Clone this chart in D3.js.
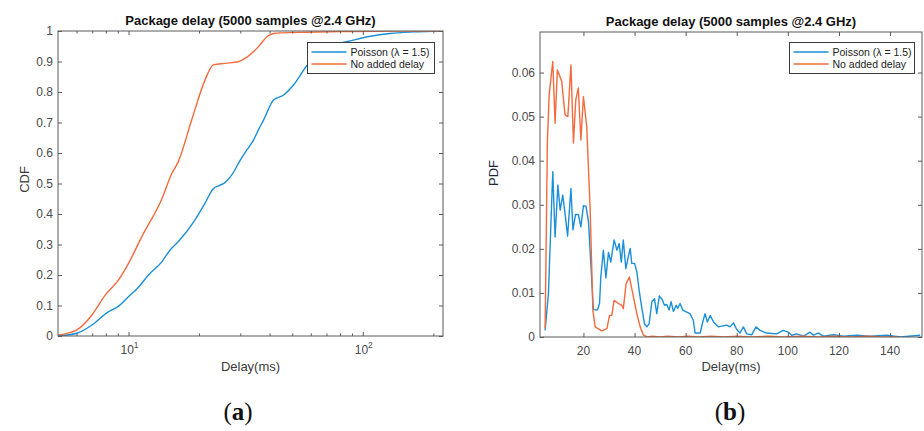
<!DOCTYPE html>
<html><head><meta charset="utf-8">
<script src="https://cdn.jsdelivr.net/npm/d3@7"></script>
<style>
html,body{margin:0;padding:0;background:#fff;}
svg{display:block;}
text{font-family:"Liberation Sans",Arial,sans-serif;}
text.cap{font-family:"Liberation Serif","DejaVu Serif",serif;}
</style></head>
<body>
<svg id="c" width="924" height="431"></svg>
<script>
// ---------- DATA ----------
const titleText = "Package delay (5000 samples @2.4 GHz)";
const seriesNames = ["Poisson (λ = 1.5)", "No added delay"];
const seriesColors = ["#1b8fd8", "#f36a3c"];

// (a) CDF, x in ms (log axis)
const cdfPoissonX = [5, 6.02, 6.98, 8.08, 9.07, 10, 11.03, 12.17, 13.9, 15.05, 16.3, 19.2, 21.2, 23.0, 24.5, 25.8, 27.6, 30.0, 32.0, 34.2, 35.8, 37.7, 41.6, 45.9, 50.6, 57.7, 70.3, 91.2, 104.6, 130.6, 164, 220];
const cdfPoissonY = [0, 0.009, 0.036, 0.076, 0.098, 0.129, 0.160, 0.200, 0.244, 0.282, 0.309, 0.380, 0.435, 0.483, 0.494, 0.503, 0.528, 0.577, 0.610, 0.643, 0.675, 0.708, 0.774, 0.790, 0.823, 0.886, 0.943, 0.970, 0.981, 0.992, 0.997, 1.0];
const cdfNoDelayX = [5, 6.02, 6.98, 7.95, 9.07, 10, 11.4, 13.9, 15.3, 16.3, 18.6, 21.2, 23.0, 25.8, 29.4, 31.4, 35.8, 39.0, 41.6, 45, 57.7, 80, 144, 220];
const cdfNoDelayY = [0.003, 0.02, 0.069, 0.134, 0.184, 0.238, 0.326, 0.451, 0.533, 0.571, 0.708, 0.839, 0.889, 0.894, 0.899, 0.910, 0.948, 0.981, 0.992, 0.994, 0.996, 0.998, 1.0, 1.0];
const cdfYTicks = [0, 0.1, 0.2, 0.3, 0.4, 0.5, 0.6, 0.7, 0.8, 0.9, 1];
const cdfYTickLabels = ["0", "0.1", "0.2", "0.3", "0.4", "0.5", "0.6", "0.7", "0.8", "0.9", "1"];
const cdfXMajor = [10, 100];
const cdfXMajorLabels = [["10", "1"], ["10", "2"]];
const cdfXMinor = [6, 7, 8, 9, 20, 30, 40, 50, 60, 70, 80, 90, 200];

// (b) PDF
const pdfPoissonX = [5.0, 6.3, 8.0, 8.9, 10.0, 10.9, 11.9, 12.8, 13.8, 15.1, 15.9, 16.9, 18.0, 19.0, 20.0, 21.0, 22.0, 23.0, 23.9, 25.5, 26.3, 26.8, 27.8, 28.8, 29.8, 30.7, 32.0, 33.1, 34.0, 34.8, 35.6, 36.6, 37.4, 38.3, 38.9, 40.0, 40.9, 41.8, 42.8, 43.9, 44.8, 45.7, 46.8, 47.8, 48.7, 49.7, 50.8, 51.7, 52.6, 53.5, 54.3, 55.2, 56.3, 56.9, 57.8, 58.9, 59.8, 61.7, 63.0, 63.7, 65.7, 66.7, 67.6, 68.5, 69.6, 70.9, 72.8, 76.1, 77.4, 78.7, 80.0, 81.3, 82.6, 83.9, 85.9, 87.5, 89.1, 91.7, 95.6, 98.2, 100.2, 101.5, 103.4, 106.1, 108.7, 110.0, 111.9, 113.9, 117.8, 121.7, 126.9, 132.2, 138.7, 144.0, 151.8];
const pdfPoissonY = [0.0015, 0.0099, 0.0375, 0.0227, 0.0345, 0.0288, 0.0322, 0.028, 0.0229, 0.0337, 0.0243, 0.0278, 0.0278, 0.025, 0.0298, 0.0297, 0.026, 0.0155, 0.0062, 0.0061, 0.0076, 0.0136, 0.0197, 0.0134, 0.0192, 0.017, 0.022, 0.0197, 0.0212, 0.017, 0.022, 0.0155, 0.0178, 0.0201, 0.0167, 0.0167, 0.0148, 0.0106, 0.0068, 0.003, 0.0023, 0.003, 0.008, 0.0087, 0.0053, 0.0093, 0.0085, 0.0072, 0.0074, 0.0061, 0.008, 0.0058, 0.0072, 0.0065, 0.0076, 0.0061, 0.0058, 0.0053, 0.0038, 0.0009, 0.0009, 0.0034, 0.0053, 0.0034, 0.0049, 0.0034, 0.0023, 0.0027, 0.0023, 0.0032, 0.0017, 0.0009, 0.0023, 0.0007, 0.0005, 0.0023, 0.0015, 0.0009, 0.0007, 0.0015, 0.0011, 0.0004, 0.0007, 0.0002, 0.0011, 0.0004, 0.0009, 0.0002, 0.0005, 0.0002, 0.0004, 0.0002, 0.0004, 0, 0.0004];
const pdfNoDelayX = [5.0, 5.9, 6.6, 8.0, 8.9, 9.8, 11.5, 12.8, 13.9, 15.1, 16.1, 17.0, 18.0, 19.0, 20.0, 21.3, 22.6, 23.7, 24.6, 27.2, 29.2, 30.2, 31.1, 32.0, 33.7, 35.0, 35.6, 36.7, 38.0, 39.3, 40.9, 42.2, 43.5, 45, 47, 50, 53, 57, 61, 65, 70, 75, 80, 86, 93, 98, 105, 112, 118, 125, 131, 137, 143];
const pdfNoDelayY = [0.002, 0.0447, 0.055, 0.0625, 0.0485, 0.0606, 0.058, 0.0504, 0.050, 0.0617, 0.044, 0.0538, 0.0565, 0.0447, 0.0545, 0.0477, 0.0295, 0.006, 0.0023, 0.0014, 0.0019, 0.0049, 0.0049, 0.0083, 0.0076, 0.0072, 0.0064, 0.0121, 0.0136, 0.0099, 0.0053, 0.0023, 0.0004, 0, 0.0002, 0, 0.0002, 0, 0.0002, 0, 0.0002, 0, 0.0002, 0, 0.0002, 0, 0.0002, 0, 0.0002, 0, 0.0002, 0, 0];
const pdfYTicks = [0, 0.01, 0.02, 0.03, 0.04, 0.05, 0.06];
const pdfYTickLabels = ["0", "0.01", "0.02", "0.03", "0.04", "0.05", "0.06"];
const pdfXTicks = [20, 40, 60, 80, 100, 120, 140];
const pdfXTickLabels = ["20", "40", "60", "80", "100", "120", "140"];

const captions = ["a", "b"];

// ---------- DRAW ----------
const svg = d3.select("#c");
const axisColor = "#5a5a5a";
const tickText = "#4a4a4a";

function frame(g, x0, x1, y0, y1) {
  g.append("rect").attr("x", x0).attr("y", y0).attr("width", x1 - x0).attr("height", y1 - y0)
    .attr("fill", "none").attr("stroke", axisColor).attr("stroke-width", 1);
}
function styleAxis(sel) {
  sel.select(".domain").remove();
  sel.selectAll(".tick line").attr("stroke", axisColor).attr("stroke-width", 1);
  sel.selectAll(".tick text").remove();
}

// ===== Chart (a) =====
const A = {l: 58, r: 443, t: 31, b: 336};
const xA = d3.scaleLog().domain([5, 220]).range([A.l, A.r]);
const yA = d3.scaleLinear().domain([0, 1]).range([A.b, A.t]);
const gA = svg.append("g");

const clipA = svg.append("clipPath").attr("id", "clipA");
clipA.append("rect").attr("x", A.l).attr("y", A.t).attr("width", A.r - A.l).attr("height", A.b - A.t);

const lineA = d3.line().x(d => xA(d[0])).y(d => yA(d[1])).curve(d3.curveMonotoneX);
gA.append("path").datum(d3.zip(cdfPoissonX, cdfPoissonY)).attr("d", lineA)
  .attr("fill", "none").attr("stroke", seriesColors[0]).attr("stroke-width", 1.4).attr("clip-path", "url(#clipA)");
gA.append("path").datum(d3.zip(cdfNoDelayX, cdfNoDelayY)).attr("d", lineA)
  .attr("fill", "none").attr("stroke", seriesColors[1]).attr("stroke-width", 1.4).attr("clip-path", "url(#clipA)");

gA.append("g").attr("transform", `translate(0,${A.b})`).call(d3.axisBottom(xA).tickValues(cdfXMajor).tickSize(-4)).call(styleAxis);
gA.append("g").attr("transform", `translate(0,${A.b})`).call(d3.axisBottom(xA).tickValues(cdfXMinor).tickSize(-2.5)).call(styleAxis);
gA.append("g").attr("transform", `translate(0,${A.t})`).call(d3.axisTop(xA).tickValues(cdfXMajor).tickSize(-4)).call(styleAxis);
gA.append("g").attr("transform", `translate(0,${A.t})`).call(d3.axisTop(xA).tickValues(cdfXMinor).tickSize(-2.5)).call(styleAxis);
gA.append("g").attr("transform", `translate(${A.l},0)`).call(d3.axisLeft(yA).tickValues(cdfYTicks).tickSize(-4)).call(styleAxis);
gA.append("g").attr("transform", `translate(${A.r},0)`).call(d3.axisRight(yA).tickValues(cdfYTicks).tickSize(-4)).call(styleAxis);
frame(gA, A.l, A.r, A.t, A.b);

cdfYTicks.forEach((v, i) => {
  gA.append("text").attr("x", A.l - 5).attr("y", yA(v)).attr("dy", "0.35em").attr("text-anchor", "end")
    .attr("font-size", 12).attr("fill", tickText).text(cdfYTickLabels[i]);
});
cdfXMajor.forEach((v, i) => {
  const t = gA.append("text").attr("x", xA(v) + 1).attr("y", 354).attr("text-anchor", "middle")
    .attr("font-size", 12).attr("fill", tickText);
  t.append("tspan").text(cdfXMajorLabels[i][0]);
  t.append("tspan").attr("dy", -6).attr("font-size", 8.5).text(cdfXMajorLabels[i][1]);
});
gA.append("text").attr("x", (A.l + A.r) / 2).attr("y", 371).attr("text-anchor", "middle")
  .attr("font-size", 13).attr("fill", "#3a3a3a").text("Delay(ms)");
gA.append("text").attr("transform", `translate(29,${(A.t + A.b) / 2 - 4}) rotate(-90)`).attr("text-anchor", "middle")
  .attr("font-size", 13).attr("fill", "#3a3a3a").text("CDF");
gA.append("text").attr("x", (A.l + A.r) / 2).attr("y", 25).attr("text-anchor", "middle")
  .attr("font-size", 13).attr("font-weight", "bold").attr("fill", "#111").text(titleText);

function legend(g, x, y, w, h) {
  g.append("rect").attr("x", x).attr("y", y).attr("width", w).attr("height", h)
    .attr("fill", "#fff").attr("stroke", "#3a3a3a").attr("stroke-width", 1);
  seriesNames.forEach((n, i) => {
    const cy = y + 9.5 + i * 12;
    g.append("line").attr("x1", x + 4).attr("x2", x + 39).attr("y1", cy).attr("y2", cy)
      .attr("stroke", seriesColors[i]).attr("stroke-width", 1.4);
    g.append("text").attr("x", x + 43).attr("y", cy).attr("dy", "0.35em")
      .attr("font-size", 10.5).attr("fill", "#222").text(n);
  });
}
legend(gA, 307.5, 42.5, 127, 31);

// ===== Chart (b) =====
const B = {l: 540, r: 922, t: 32, b: 337};
const xB = d3.scaleLinear().domain([3, 152.5]).range([B.l, B.r]);
const yB = d3.scaleLinear().domain([0, 0.0692]).range([B.b, B.t]);
const gB = svg.append("g");
const clipB = svg.append("clipPath").attr("id", "clipB");
clipB.append("rect").attr("x", B.l).attr("y", B.t - 2).attr("width", B.r - B.l).attr("height", B.b - B.t + 2);

const lineB = d3.line().x(d => xB(d[0])).y(d => yB(d[1]));
gB.append("path").datum(d3.zip(pdfPoissonX, pdfPoissonY)).attr("d", lineB)
  .attr("fill", "none").attr("stroke", seriesColors[0]).attr("stroke-width", 1.4).attr("stroke-linejoin", "round").attr("clip-path", "url(#clipB)");
gB.append("path").datum(d3.zip(pdfNoDelayX, pdfNoDelayY)).attr("d", lineB)
  .attr("fill", "none").attr("stroke", seriesColors[1]).attr("stroke-width", 1.4).attr("stroke-linejoin", "round").attr("clip-path", "url(#clipB)");

gB.append("g").attr("transform", `translate(0,${B.b})`).call(d3.axisBottom(xB).tickValues(pdfXTicks).tickSize(-4)).call(styleAxis);
gB.append("g").attr("transform", `translate(0,${B.t})`).call(d3.axisTop(xB).tickValues(pdfXTicks).tickSize(-4)).call(styleAxis);
gB.append("g").attr("transform", `translate(${B.l},0)`).call(d3.axisLeft(yB).tickValues(pdfYTicks).tickSize(-4)).call(styleAxis);
gB.append("g").attr("transform", `translate(${B.r},0)`).call(d3.axisRight(yB).tickValues(pdfYTicks).tickSize(-4)).call(styleAxis);
frame(gB, B.l, B.r, B.t, B.b);

pdfYTicks.forEach((v, i) => {
  gB.append("text").attr("x", B.l - 5).attr("y", yB(v)).attr("dy", "0.35em").attr("text-anchor", "end")
    .attr("font-size", 12).attr("fill", tickText).text(pdfYTickLabels[i]);
});
pdfXTicks.forEach((v, i) => {
  gB.append("text").attr("x", xB(v)).attr("y", 355).attr("text-anchor", "middle")
    .attr("font-size", 12).attr("fill", tickText).text(pdfXTickLabels[i]);
});
gB.append("text").attr("x", (B.l + B.r) / 2).attr("y", 371).attr("text-anchor", "middle")
  .attr("font-size", 13).attr("fill", "#3a3a3a").text("Delay(ms)");
gB.append("text").attr("transform", `translate(498,173) rotate(-90)`).attr("text-anchor", "middle")
  .attr("font-size", 13).attr("fill", "#1e2a3a").text("PDF");
gB.append("text").attr("x", (B.l + B.r) / 2).attr("y", 26).attr("text-anchor", "middle")
  .attr("font-size", 13).attr("font-weight", "bold").attr("fill", "#111").text(titleText);
legend(gB, 789.5, 42.5, 125, 31);

// captions
[238, 730].forEach((cx, i) => {
  const t = svg.append("text").attr("class", "cap").attr("x", cx).attr("y", 420).attr("text-anchor", "middle")
    .attr("font-size", 25).attr("fill", "#111");
  t.append("tspan").text("(");
  t.append("tspan").attr("font-weight", "bold").text(captions[i]);
  t.append("tspan").text(")");
});
</script>
</body></html>
